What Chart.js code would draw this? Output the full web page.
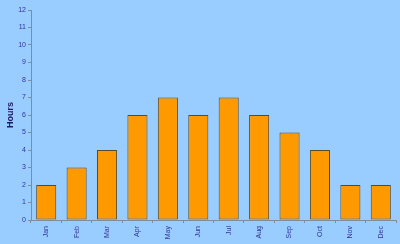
<!DOCTYPE html>
<html>
<head>
<meta charset="utf-8">
<script src="https://cdn.jsdelivr.net/npm/chart.js@4.4.0/dist/chart.umd.min.js"></script>
<style>
  html, body { margin: 0; padding: 0; background: #99ccff; }
  #wrap { width: 400px; height: 244px; }
</style>
</head>
<body>
<div id="wrap"><canvas id="hoursChart"></canvas></div>
<script>
// chart data
const months = ['Jan', 'Feb', 'Mar', 'Apr', 'May', 'Jun', 'Jul', 'Aug', 'Sep', 'Oct', 'Nov', 'Dec'];
const hours = [2, 3, 4, 6, 7, 6, 7, 6, 5, 4, 2, 2];
const yTicks = [0, 1, 2, 3, 4, 5, 6, 7, 8, 9, 10, 11, 12];

const axisGrey = '#7f8c99';
const labelBlue = '#33339a';

Chart.defaults.font.family = "'Liberation Sans', Arial, sans-serif";

const ctx = document.getElementById('hoursChart').getContext('2d');
new Chart(ctx, {
  type: 'bar',
  data: {
    labels: months,
    datasets: [{
      label: 'Hours',
      data: hours,
      backgroundColor: '#ff9900',
      borderColor: '#5e4a22',
      borderWidth: 1,
      borderSkipped: false,
      categoryPercentage: 0.66,
      barPercentage: 1
    }]
  },
  options: {
    responsive: true,
    maintainAspectRatio: false,
    animation: false,
    layout: { padding: { top: 10, right: 4, left: 0, bottom: 0 } },
    plugins: {
      legend: { display: false },
      tooltip: { enabled: false }
    },
    scales: {
      x: {
        grid: { display: true, drawOnChartArea: false, offset: true, tickLength: 3, color: axisGrey },
        border: { color: axisGrey },
        ticks: {
          color: labelBlue,
          font: { size: 7 },
          minRotation: 90,
          maxRotation: 90,
          padding: 3
        },
        afterFit: (scale) => { scale.height = 24; }
      },
      y: {
        min: 0,
        max: 12,
        afterBuildTicks: (scale) => { scale.ticks = yTicks.map(v => ({ value: v })); },
        grid: { display: true, drawOnChartArea: false, tickLength: 3, color: axisGrey },
        border: { color: axisGrey },
        ticks: { color: labelBlue, font: { size: 7 }, padding: 2 },
        title: {
          display: true,
          text: 'Hours',
          color: '#1a1a66',
          font: { size: 9, weight: 'bold' },
          padding: { top: 5, bottom: 4 }
        },
        afterFit: (scale) => { scale.width = 31; }
      }
    }
  }
});
</script>
</body>
</html>
